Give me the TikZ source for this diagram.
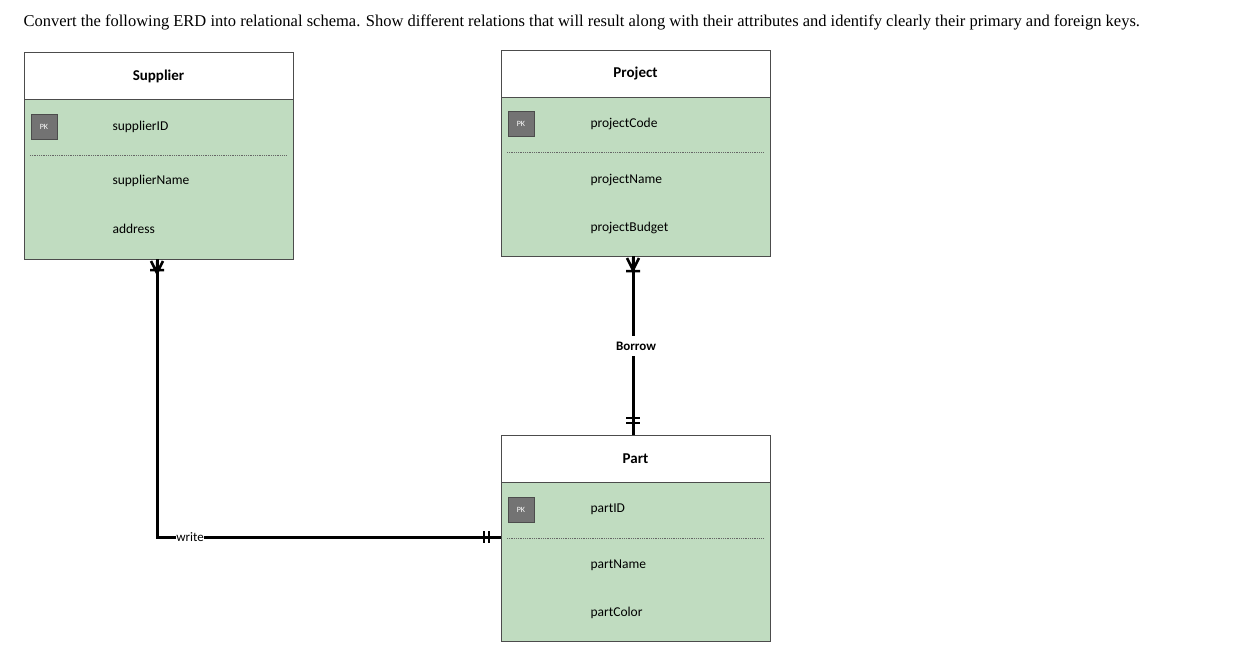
\documentclass[tikz,border=0pt]{standalone}
\usepackage{fontspec}
\setmainfont{Liberation Serif}
\newfontfamily\boxfont{Carlito}
\begin{document}
\begin{tikzpicture}[x=1pt,y=-1pt,
  hdr/.style={font=\boxfont\bfseries\fontsize{15}{18}\selectfont},
  attr/.style={font=\boxfont\fontsize{13.5}{16}\selectfont,anchor=west},
  pk/.style={draw=black!70,fill=black!55,text=white,minimum width=26pt,minimum height=25pt,inner sep=0pt,font=\boxfont\fontsize{8}{9}\selectfont},
  rel/.style={line width=3pt},
  dsh/.style={black!60,densely dotted,line width=0.8pt}]
\useasboundingbox (0,0) rectangle (1247,648);
\node[font=\fontsize{16.5}{20}\selectfont,anchor=west] (title) at (20,22) {Convert the following ERD into relational schema. Show different relations that will result along with their attributes and identify clearly their primary and foreign keys.};
% Supplier
\draw[fill=green!20!black!0] (24,52) rectangle (293,259);
\fill[fill={rgb,255:red,192;green,220;blue,192}] (24,99) rectangle (293,259);
\draw[black!70] (24,52) rectangle (293,259) (24,99) -- (293,99);
\node[hdr] (sh) at (158.5,76) {Supplier};
\node[pk] (spk) at (44,127) {PK};
\draw[dsh] (30,155) -- (287,155);
\node[attr] (s1) at (109,127) {supplierID};
\node[attr] (s2) at (109,181) {supplierName};
\node[attr] (s3) at (109,229) {address};
% Project
\fill[fill={rgb,255:red,192;green,220;blue,192}] (501,97) rectangle (770,256);
\draw[black!70] (501,50) rectangle (770,256) (501,97) -- (770,97);
\node[hdr] (ph) at (635.5,74) {Project};
\node[pk] (ppk) at (521,124) {PK};
\draw[dsh] (507,152) -- (764,152);
\node[attr] (p1) at (587,124) {projectCode};
\node[attr] (p2) at (587,180) {projectName};
\node[attr] (p3) at (587,228) {projectBudget};
% Part
\fill[fill={rgb,255:red,192;green,220;blue,192}] (501,482) rectangle (770,641);
\draw[black!70] (501,435) rectangle (770,641) (501,482) -- (770,482);
\node[hdr] (rh) at (635.5,459) {Part};
\node[pk] (rpk) at (521,510) {PK};
\draw[dsh] (507,538) -- (764,538);
\node[attr] (r1) at (587,509) {partID};
\node[attr] (r2) at (587,565) {partName};
\node[attr] (r3) at (587,613) {partColor};
% write
\coordinate (wtop) at (157,259);
\coordinate (wc) at (157,537);
\coordinate (wend) at (501,537);
\node[font=\boxfont\fontsize{13}{15}\selectfont,inner sep=0pt] (wl) at (190,537) {write};
\draw[rel,line cap=butt] (wtop) -- (wc) -- (wl.west);
\draw[rel] (wl.east) -- (wend);
\draw[line width=2.5pt] (151,261) -- (157,273) -- (163,261) (157,273)--(157,261) (150,270) -- (164,270);
\draw[line width=2.5pt] (484,531) -- (484,543) (489,531) -- (489,543);
% borrow
\coordinate (btop) at (633,256);
\coordinate (bbot) at (633,435);
\node[font=\boxfont\bfseries\fontsize{13}{15}\selectfont,fill=white,inner ysep=6pt] (bl) at (636,346) {Borrow};
\draw[rel] (btop) -- (bl.north -| btop) (bl.south -| btop) -- (bbot);
\draw[line width=2.5pt] (627,258) -- (633,270) -- (639,258) (633,270)--(633,258) (626,271) -- (640,271);
\draw[line width=2.5pt] (626,418) -- (640,418) (626,423) -- (640,423);
\end{tikzpicture}
\end{document}
